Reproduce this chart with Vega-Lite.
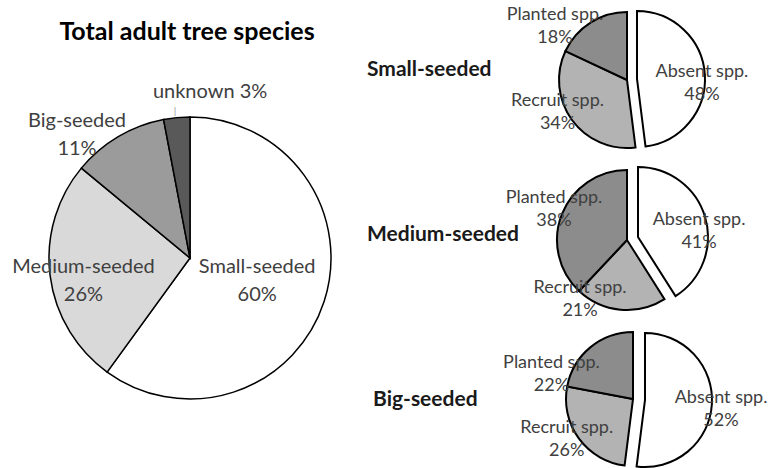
{
  "$schema": "https://vega.github.io/schema/vega-lite/v6.json",
  "padding": {"left": 0, "top": 5, "right": 0, "bottom": 0},
  "background": "white",
  "config": {"view": {"stroke": null}, "text": {"font": "Lato"}, "title": {"font": "Lato"}},
  "datasets": {
    "total": [
      {"k": 1, "cat": "Small-seeded", "v": 60, "label": "Small-seeded\n60%"},
      {"k": 2, "cat": "Medium-seeded", "v": 26, "label": "Medium-seeded\n26%"},
      {"k": 3, "cat": "Big-seeded", "v": 11, "label": "Big-seeded\n11%"},
      {"k": 4, "cat": "unknown", "v": 3, "label": "unknown 3%"}
    ],
    "groups": [
      {"group": "Small-seeded"},
      {"group": "Medium-seeded"},
      {"group": "Big-seeded"}
    ],
    "seeds": [
      {"group": "Small-seeded", "k": 1, "part": "Absent spp.", "v": 48, "label": "Absent spp.\n48%"},
      {"group": "Small-seeded", "k": 2, "part": "Recruit spp.", "v": 34, "label": "Recruit spp.\n34%"},
      {"group": "Small-seeded", "k": 3, "part": "Planted spp.", "v": 18, "label": "Planted spp.\n18%"},
      {"group": "Medium-seeded", "k": 1, "part": "Absent spp.", "v": 41, "label": "Absent spp.\n41%"},
      {"group": "Medium-seeded", "k": 2, "part": "Recruit spp.", "v": 21, "label": "Recruit spp.\n21%"},
      {"group": "Medium-seeded", "k": 3, "part": "Planted spp.", "v": 38, "label": "Planted spp.\n38%"},
      {"group": "Big-seeded", "k": 1, "part": "Absent spp.", "v": 52, "label": "Absent spp.\n52%"},
      {"group": "Big-seeded", "k": 2, "part": "Recruit spp.", "v": 26, "label": "Recruit spp.\n26%"},
      {"group": "Big-seeded", "k": 3, "part": "Planted spp.", "v": 22, "label": "Planted spp.\n22%"}
    ]
  },
  "bounds": "flush",
  "spacing": 84.5,
  "resolve": {"scale": {"color": "independent", "theta": "independent", "y": "independent"}},
  "hconcat": [
    {
      "width": 380,
      "height": 506,
      "title": {"text": "Total adult tree species", "anchor": "middle", "frame": "group", "offset": -40, "dx": -3, "fontSize": 25, "fontWeight": "bold", "color": "#000000", "font": "Lato"},
      "data": {"name": "total"},
      "encoding": {
        "theta": {"field": "v", "type": "quantitative", "stack": true},
        "order": {"field": "k", "type": "quantitative"},
        "detail": {"field": "cat", "type": "nominal"}
      },
      "layer": [
        {
          "mark": {"type": "arc", "radius": 141, "stroke": "#000000", "strokeWidth": 1.5},
          "encoding": {
            "color": {"field": "cat", "type": "nominal", "legend": null,
              "scale": {"domain": ["Small-seeded", "Medium-seeded", "Big-seeded", "unknown"], "range": ["#ffffff", "#d9d9d9", "#9b9b9b", "#595959"]}}
          }
        },
        {
          "mark": {"type": "text", "radius": 71, "thetaOffset": 0.017, "dy": -14, "lineBreak": "\n", "lineHeight": 28, "color": "#404040"},
          "encoding": {
            "text": {"condition": {"test": "datum.cat === 'Small-seeded'", "field": "label", "type": "nominal"}, "value": ""},
            "size": {"condition": {"test": "datum.cat === 'Small-seeded'", "value": 20}, "value": 0}
          }
        },
        {
          "mark": {"type": "text", "radius": 109, "thetaOffset": -0.086, "dy": -14, "lineBreak": "\n", "lineHeight": 28, "color": "#404040"},
          "encoding": {
            "text": {"condition": {"test": "datum.cat === 'Medium-seeded'", "field": "label", "type": "nominal"}, "value": ""},
            "size": {"condition": {"test": "datum.cat === 'Medium-seeded'", "value": 20}, "value": 0}
          }
        },
        {
          "mark": {"type": "text", "radius": 167, "thetaOffset": -0.209, "dy": -14, "lineBreak": "\n", "lineHeight": 28, "color": "#404040"},
          "encoding": {
            "text": {"condition": {"test": "datum.cat === 'Big-seeded'", "field": "label", "type": "nominal"}, "value": ""},
            "size": {"condition": {"test": "datum.cat === 'Big-seeded'", "value": 20}, "value": 0}
          }
        },
        {
          "mark": {"type": "text", "radius": 167, "thetaOffset": 0.215, "lineBreak": "\n", "lineHeight": 28, "color": "#404040"},
          "encoding": {
            "text": {"condition": {"test": "datum.cat === 'unknown'", "field": "label", "type": "nominal"}, "value": ""},
            "size": {"condition": {"test": "datum.cat === 'unknown'", "value": 20}, "value": 0}
          }
        },
        {
          "mark": {"type": "text", "radius": 148, "thetaOffset": -0.008, "color": "#999999", "fontWeight": "normal"},
          "encoding": {
            "text": {"condition": {"test": "datum.cat === 'unknown'", "value": "|"}, "value": ""},
            "size": {"condition": {"test": "datum.cat === 'unknown'", "value": 10}, "value": 0}
          }
        }
      ]
    },
    {
      "width": 2,
      "height": 460,
      "data": {"name": "groups"},
      "encoding": {
        "y": {"field": "group", "type": "nominal", "axis": null,
          "scale": {"type": "point", "domain": ["Small-seeded", "Medium-seeded", "Big-seeded"], "padding": 0.394}},
        "text": {"field": "group", "type": "nominal"}
      },
      "layer": [
        {
          "transform": [{"filter": "datum.group !== 'Big-seeded'"}],
          "mark": {"type": "text", "align": "left", "baseline": "middle", "dx": -98.5, "dy": 0, "fontSize": 21, "fontWeight": "bold", "color": "#1a1a1a", "font": "Lato"}
        },
        {
          "transform": [{"filter": "datum.group === 'Big-seeded'"}],
          "mark": {"type": "text", "align": "left", "baseline": "middle", "dx": -92.5, "dy": 0, "fontSize": 21, "fontWeight": "bold", "color": "#1a1a1a", "font": "Lato"}
        }
      ]
    },
    {
      "bounds": "flush",
      "spacing": 10,
      "resolve": {"scale": {"color": "independent", "theta": "independent"}},
      "vconcat": [
        {
          "width": 152,
          "height": 150,
          "data": {"name": "seeds"},
          "transform": [
            {"filter": "datum.group === 'Small-seeded'"},
            {"stack": "v", "groupby": [], "sort": [{"field": "k", "order": "ascending"}], "as": ["s0", "s1"]}
          ],
          "encoding": {
            "theta": {"field": "s0", "type": "quantitative", "stack": null, "scale": {"domain": [0, 100]}}
          },
          "layer": [
            {
              "transform": [{"filter": "datum.part !== 'Absent spp.'"}],
              "mark": {"type": "arc", "radius": 68, "stroke": "#000000", "strokeWidth": 2},
              "encoding": {
                "theta2": {"field": "s1"},
                "color": {"field": "part", "type": "nominal", "legend": null, "scale": {"domain": ["Absent spp.", "Recruit spp.", "Planted spp."], "range": ["#ffffff", "#b3b3b3", "#8c8c8c"]}}
              }
            },
            {
              "transform": [{"filter": "datum.part === 'Absent spp.'"}],
              "mark": {"type": "arc", "radius": 68, "stroke": "#000000", "strokeWidth": 2, "xOffset": 10, "yOffset": -1},
              "encoding": {
                "theta2": {"field": "s1"},
                "color": {"field": "part", "type": "nominal", "legend": null, "scale": {"domain": ["Absent spp.", "Recruit spp.", "Planted spp."], "range": ["#ffffff", "#b3b3b3", "#8c8c8c"]}}
              }
            },
            {
              "transform": [{"filter": "datum.part === 'Planted spp.'"}],
              "mark": {"type": "text", "radius": 89.7, "thetaOffset": 0.199, "dy": -11.5, "fontSize": 18, "lineBreak": "\n", "lineHeight": 23, "color": "#404040"},
              "encoding": {"text": {"field": "label", "type": "nominal"}}
            },
            {
              "transform": [{"filter": "datum.part === 'Recruit spp.'"}],
              "mark": {"type": "text", "radius": 76.7, "thetaOffset": 1.258, "dy": -11.5, "fontSize": 18, "lineBreak": "\n", "lineHeight": 23, "color": "#404040"},
              "encoding": {"text": {"field": "label", "type": "nominal"}}
            },
            {
              "transform": [{"filter": "datum.part === 'Absent spp.'"}],
              "mark": {"type": "text", "radius": 75, "thetaOffset": 1.611, "dy": -11.5, "fontSize": 18, "lineBreak": "\n", "lineHeight": 23, "color": "#404040"},
              "encoding": {"text": {"field": "label", "type": "nominal"}}
            }
          ]
        },
        {
          "width": 152,
          "height": 150,
          "data": {"name": "seeds"},
          "transform": [
            {"filter": "datum.group === 'Medium-seeded'"},
            {"stack": "v", "groupby": [], "sort": [{"field": "k", "order": "ascending"}], "as": ["s0", "s1"]}
          ],
          "encoding": {
            "theta": {"field": "s0", "type": "quantitative", "stack": null, "scale": {"domain": [0, 100]}}
          },
          "layer": [
            {
              "transform": [{"filter": "datum.part !== 'Absent spp.'"}],
              "mark": {"type": "arc", "radius": 70, "stroke": "#000000", "strokeWidth": 2},
              "encoding": {
                "theta2": {"field": "s1"},
                "color": {"field": "part", "type": "nominal", "legend": null, "scale": {"domain": ["Absent spp.", "Recruit spp.", "Planted spp."], "range": ["#ffffff", "#b3b3b3", "#8c8c8c"]}}
              }
            },
            {
              "transform": [{"filter": "datum.part === 'Absent spp.'"}],
              "mark": {"type": "arc", "radius": 70, "stroke": "#000000", "strokeWidth": 2, "xOffset": 11, "yOffset": -3},
              "encoding": {
                "theta2": {"field": "s1"},
                "color": {"field": "part", "type": "nominal", "legend": null, "scale": {"domain": ["Absent spp.", "Recruit spp.", "Planted spp."], "range": ["#ffffff", "#b3b3b3", "#8c8c8c"]}}
              }
            },
            {
              "transform": [{"filter": "datum.part === 'Planted spp.'"}],
              "mark": {"type": "text", "radius": 79.3, "thetaOffset": 1.218, "dy": -11.5, "fontSize": 18, "lineBreak": "\n", "lineHeight": 23, "color": "#404040"},
              "encoding": {"text": {"field": "label", "type": "nominal"}}
            },
            {
              "transform": [{"filter": "datum.part === 'Recruit spp.'"}],
              "mark": {"type": "text", "radius": 75.4, "thetaOffset": 1.237, "dy": -11.5, "fontSize": 18, "lineBreak": "\n", "lineHeight": 23, "color": "#404040"},
              "encoding": {"text": {"field": "label", "type": "nominal"}}
            },
            {
              "transform": [{"filter": "datum.part === 'Absent spp.'"}],
              "mark": {"type": "text", "radius": 72.6, "thetaOffset": 1.447, "dy": -11.5, "fontSize": 18, "lineBreak": "\n", "lineHeight": 23, "color": "#404040"},
              "encoding": {"text": {"field": "label", "type": "nominal"}}
            }
          ]
        },
        {
          "width": 164,
          "height": 148,
          "data": {"name": "seeds"},
          "transform": [
            {"filter": "datum.group === 'Big-seeded'"},
            {"stack": "v", "groupby": [], "sort": [{"field": "k", "order": "ascending"}], "as": ["s0", "s1"]}
          ],
          "encoding": {
            "theta": {"field": "s0", "type": "quantitative", "stack": null, "scale": {"domain": [0, 100]}}
          },
          "layer": [
            {
              "transform": [{"filter": "datum.part !== 'Absent spp.'"}],
              "mark": {"type": "arc", "radius": 67, "stroke": "#000000", "strokeWidth": 2},
              "encoding": {
                "theta2": {"field": "s1"},
                "color": {"field": "part", "type": "nominal", "legend": null, "scale": {"domain": ["Absent spp.", "Recruit spp.", "Planted spp."], "range": ["#ffffff", "#b3b3b3", "#8c8c8c"]}}
              }
            },
            {
              "transform": [{"filter": "datum.part === 'Absent spp.'"}],
              "mark": {"type": "arc", "radius": 67, "stroke": "#000000", "strokeWidth": 2, "xOffset": 12, "yOffset": 1},
              "encoding": {
                "theta2": {"field": "s1"},
                "color": {"field": "part", "type": "nominal", "legend": null, "scale": {"domain": ["Absent spp.", "Recruit spp.", "Planted spp."], "range": ["#ffffff", "#b3b3b3", "#8c8c8c"]}}
              }
            },
            {
              "transform": [{"filter": "datum.part === 'Planted spp.'"}],
              "mark": {"type": "text", "radius": 85, "thetaOffset": 0.098, "dy": -11.5, "fontSize": 18, "lineBreak": "\n", "lineHeight": 23, "color": "#404040"},
              "encoding": {"text": {"field": "label", "type": "nominal"}}
            },
            {
              "transform": [{"filter": "datum.part === 'Recruit spp.'"}],
              "mark": {"type": "text", "radius": 77.7, "thetaOffset": 0.897, "dy": -11.5, "fontSize": 18, "lineBreak": "\n", "lineHeight": 23, "color": "#404040"},
              "encoding": {"text": {"field": "label", "type": "nominal"}}
            },
            {
              "transform": [{"filter": "datum.part === 'Absent spp.'"}],
              "mark": {"type": "text", "radius": 88.7, "thetaOffset": 1.695, "dy": -11.5, "fontSize": 18, "lineBreak": "\n", "lineHeight": 23, "color": "#404040"},
              "encoding": {"text": {"field": "label", "type": "nominal"}}
            }
          ]
        }
      ]
    }
  ]
}
